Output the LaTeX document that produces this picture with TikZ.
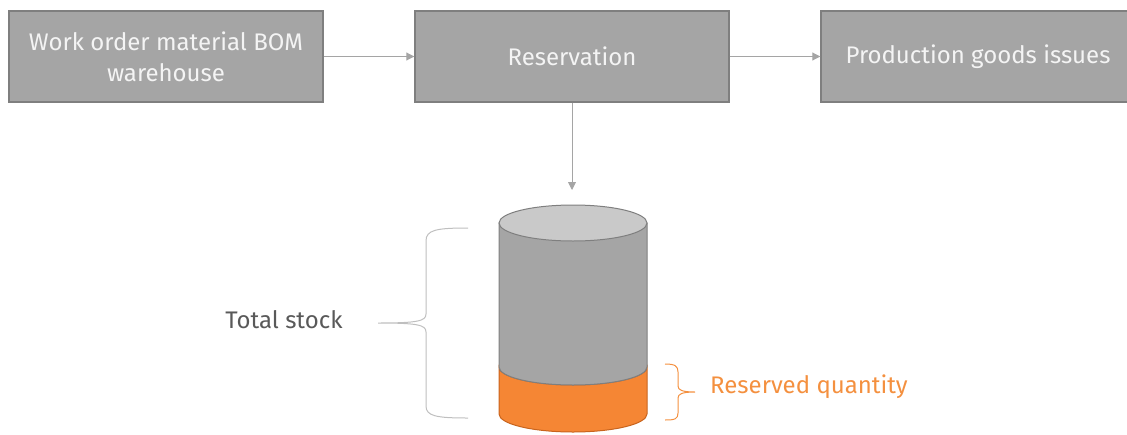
\documentclass[tikz,border=0pt]{standalone}
\usepackage{fontspec}
\setmainfont{Fira Sans}
\usetikzlibrary{arrows.meta}
\definecolor{boxfill}{HTML}{A5A5A5}
\definecolor{boxedge}{HTML}{7F7F7F}
\definecolor{boxtext}{HTML}{F4F4F4}
\definecolor{lidfill}{HTML}{C9C9C9}
\definecolor{arrowgray}{HTML}{A5A5A5}
\definecolor{bracegray}{HTML}{BFBFBF}
\definecolor{labelgray}{HTML}{595959}
\definecolor{resfill}{HTML}{F58634}
\definecolor{resedge}{HTML}{C8641E}
\definecolor{reslabel}{HTML}{F4903F}
\tikzset{
  stepbox/.style={draw=boxedge, line width=1.4pt, fill=boxfill, text=boxtext,
    minimum width=314pt, minimum height=91pt, align=center, inner sep=0pt,
    font=\fontsize{24}{31}\selectfont},
  flow/.style={draw=arrowgray, line width=0.9pt, -{Triangle[length=8pt,width=8pt]}},
  label/.style={font=\fontsize{24}{28}\selectfont, inner sep=0pt}
}
\begin{document}
\begin{tikzpicture}[x=1pt,y=-1pt]
\useasboundingbox (0,0) rectangle (1127,434);

% process steps
\node[stepbox] (bom) at (166,56.5) {Work order material BOM\\warehouse};
\node[stepbox] (res) at (572,56.5) {Reservation};
\node[stepbox] (pgi) at (978,56.5) {Production goods issues};

\coordinate (stocktop) at (572,190);
\draw[flow] (bom.east) -- (res.west);
\draw[flow] (res.east) -- (pgi.west);
\draw[flow] (res.south -| stocktop) -- (stocktop);

% stock cylinder: reserved part
\path[fill=resfill, draw=resedge, line width=1pt]
  (499,367) -- (499,414) arc[start angle=180, end angle=0, x radius=74, y radius=18]
  -- (647,367) arc[start angle=0, end angle=180, x radius=74, y radius=18] -- cycle;
% stock cylinder: remaining part
\path[fill=boxfill, draw=boxedge, line width=1pt]
  (499,223) -- (499,367) arc[start angle=180, end angle=0, x radius=74, y radius=18]
  -- (647,223) -- cycle;
\path[fill=lidfill, draw=boxedge, line width=1pt] (573,223) ellipse[x radius=74, y radius=18];

% total stock brace
\draw[bracegray, line width=1pt]
  (468,228) .. controls (436,228) and (426,230) .. (426,241) -- (426,314)
  .. controls (426,321) and (418,323) .. (378,323)
  .. controls (418,323) and (426,325) .. (426,332) -- (426,406)
  .. controls (426,416) and (436,418) .. (468,418);
\node[label, text=labelgray] (total) at (284,320) {Total stock};

% reserved quantity brace
\draw[reslabel, line width=1pt]
  (665,364) .. controls (675,364) and (678,366) .. (678,372) -- (678,386)
  .. controls (678,390) and (682,392) .. (695,392)
  .. controls (682,392) and (678,394) .. (678,398) -- (678,413)
  .. controls (678,419) and (675,420) .. (665,420);
\node[label, text=reslabel, anchor=west] (reserved) at (710,387) {Reserved quantity};
\end{tikzpicture}
\end{document}
